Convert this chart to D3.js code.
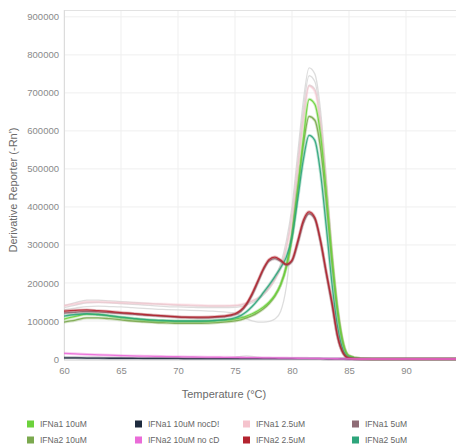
<!DOCTYPE html>
<html><head><meta charset="utf-8">
<script src="https://cdn.jsdelivr.net/npm/d3@7"></script>
<style>body{margin:0;background:#fff;} svg{display:block;font-family:"Liberation Sans",Arial,sans-serif;}</style>
</head><body><svg id="c" width="456" height="447"></svg>
<script>
const temps = [60,61,62,63,64,65,66,67,68,69,70,71,72,73,74,75,75.5,76,76.5,77,77.5,78,78.5,79,79.5,80,80.5,81,81.5,82,82.5,83,83.5,84,84.5,85,86,87,88,90,92,95];
const xTicks = [60,65,70,75,80,85,90];
const yTicks = [0,100000,200000,300000,400000,500000,600000,700000,800000,900000];
const seriesNames = ["IFNa1 10uM","IFNa1 10uM nocD!","IFNa1 2.5uM","IFNa1 5uM","IFNa2 10uM","IFNa2 10uM no cD","IFNa2 2.5uM","IFNa2 5uM"];
const seriesColors = ["#6cd23c","#1e2b3e","#f5c3cd","#8e6b75","#7ba94e","#ea6bd8","#b3232f","#2ea57b"];
// values (Derivative Reporter) per temperature
const ifna1_10 =  [105000,112000,118000,117000,113000,109000,106000,103000,101000,100000,99000,99000,99000,100000,102000,105000,108000,113000,119000,127000,137000,150000,168000,195000,240000,320000,440000,580000,683000,670000,590000,440000,270000,130000,40000,8000,1000,0,0,0,0,0];
const ifna1_10nocd = [3000,3000,2500,2500,2000,2000,2000,1500,1500,1500,1500,1000,1000,1000,1000,1000,1000,1000,1000,1000,1000,1000,1000,1000,1000,1000,1000,1000,1000,1000,1000,500,500,500,500,0,0,0,0,0,0,0];
const ifna1_25 =  [140000,145000,150000,150000,149000,148000,147000,146000,145000,144000,143000,142000,141000,140000,140000,141000,143000,147000,153000,160000,172000,188000,210000,240000,290000,370000,500000,630000,718000,705000,620000,460000,280000,135000,42000,9000,1000,0,0,0,0,0];
const ifna1_5 =   [121000,123000,125000,124000,122000,120000,118000,116000,114000,112000,110000,109000,108000,109000,111000,117000,125000,142000,168000,201000,235000,258000,264000,257000,247000,257000,303000,358000,382000,368000,308000,225000,145000,58000,14000,2000,0,0,0,0,0,0];
const ifna2_10 =  [97000,102000,108000,108000,106000,103000,100000,98000,96000,95000,94000,94000,94000,95000,97000,100000,103000,108000,114000,122000,132000,146000,165000,195000,245000,330000,450000,565000,638000,628000,555000,415000,255000,122000,38000,8000,1000,0,0,0,0,0];
const ifna2_10nocd = [15000,13500,12000,11000,10000,9000,8000,7500,7000,6500,6000,5500,5000,4800,4500,4200,4000,3800,3600,3400,3200,3000,2800,2600,2400,2200,2000,1800,1600,1400,1200,1000,800,600,400,200,0,0,0,0,0,0];
const ifna2_25 =  [126000,128000,129000,127000,125000,122000,120000,117000,115000,113000,111000,110000,110000,111000,113000,119000,128000,145000,172000,205000,238000,262000,268000,260000,249000,260000,310000,365000,387000,372000,312000,230000,150000,60000,15000,2000,0,0,0,0,0,0];
const ifna2_5 =   [113000,117000,119000,117000,114000,110000,107000,104000,102000,101000,100000,100000,100000,101000,103000,108000,114000,124000,138000,155000,175000,195000,217000,240000,268000,320000,420000,525000,588000,575000,490000,350000,200000,85000,22000,4000,0,0,0,0,0,0];
// unselected replicate wells (light gray)
const grayA = [140000,148000,155000,155000,153000,151000,149000,147000,145000,143000,141000,140000,139000,139000,139000,140000,142000,146000,152000,160000,172000,190000,215000,250000,310000,400000,540000,680000,766000,750000,655000,480000,290000,140000,44000,9000,1000,0,0,0,0,0];
const grayB = [135000,142000,148000,149000,148000,146000,144000,142000,140000,138000,137000,136000,135000,135000,135000,136000,138000,142000,148000,156000,168000,185000,208000,240000,295000,385000,520000,660000,745000,730000,635000,465000,280000,135000,42000,9000,1000,0,0,0,0,0];
const grayC = [130000,134000,138000,139000,138000,137000,135000,133000,131000,130000,129000,128000,127000,126000,124000,120000,114000,106000,100000,97000,97000,99000,105000,125000,190000,330000,500000,640000,720000,710000,620000,455000,275000,130000,40000,8000,1000,0,0,0,0,0];
const grayD = [2000,2000,2000,2000,2000,2000,2000,2500,3000,4000,5000,5000,4000,3000,3500,5000,7000,8000,7000,5000,3000,2000,1500,1000,1000,1000,1000,1000,1000,1000,1000,500,500,500,0,0,0,0,0,0,0,0];

const grayData = [grayA, grayB, grayC, grayD];
const seriesData = [ifna1_10, ifna1_10nocd, ifna1_25, ifna1_5, ifna2_10, ifna2_10nocd, ifna2_25, ifna2_5];
const seriesOrder = [2,1,4,0,7,3,6,5];

const svg = d3.select("#c");
const x = d3.scaleLinear().domain([60,95]).range([64, 463]);
const y = d3.scaleLinear().domain([0,918000]).range([359, 10]);

svg.append("defs").append("clipPath").attr("id","clip").append("rect").attr("x",64).attr("y",0).attr("width",392).attr("height",362);

// grid
const g = svg.append("g");
g.selectAll(".vg").data(xTicks).join("line").attr("x1",d=>x(d)).attr("x2",d=>x(d)).attr("y1",10).attr("y2",359).attr("stroke","#efefef");
g.selectAll(".hg").data(yTicks).join("line").attr("x1",64).attr("x2",456).attr("y1",d=>y(d)).attr("y2",d=>y(d)).attr("stroke","#efefef");
g.append("line").attr("x1",64).attr("x2",456).attr("y1",10.5).attr("y2",10.5).attr("stroke","#e2e2e2");
g.append("line").attr("x1",64.5).attr("x2",64.5).attr("y1",10).attr("y2",360).attr("stroke","#dcdcdc");
g.append("line").attr("x1",64).attr("x2",456).attr("y1",360.5).attr("y2",360.5).attr("stroke","#e6e6e6");

// axes
const xAxis = d3.axisBottom(x).tickValues(xTicks).tickSize(0).tickPadding(8);
const xa = svg.append("g").attr("transform","translate(0,359)").call(xAxis);
const yAxis = d3.axisLeft(y).tickValues(yTicks).tickSize(0).tickPadding(5).tickFormat(d3.format("d"));
const ya = svg.append("g").attr("transform","translate(64,0)").call(yAxis);
[xa,ya].forEach(a=>{a.select(".domain").remove();a.selectAll("text").attr("fill","#8a8a8a").style("font-size","9.5px").style("font-family","Liberation Sans, Arial, sans-serif");});

svg.append("text").attr("x",224).attr("y",398).attr("text-anchor","middle").attr("fill","#6a6a6a").style("font-size","11px").text("Temperature (°C)");
svg.append("text").attr("transform","translate(17,190) rotate(-90)").attr("text-anchor","middle").attr("fill","#6a6a6a").style("font-size","11px").text("Derivative Reporter (-Rn')");

const line = d3.line().x((d,i)=>x(temps[i])).y(d=>y(d)).curve(d3.curveMonotoneX);
const plot = svg.append("g").attr("clip-path","url(#clip)");
plot.selectAll(".gray").data(grayData).join("path").attr("d",line).attr("fill","none").attr("stroke","#d9d9d9").attr("stroke-width",1.3).attr("opacity",0.9);

seriesOrder.forEach(k=>{
  const col = seriesColors[k];
  const op = k===2 ? 0.6 : 0.9;
  plot.append("path").attr("d",line(seriesData[k])).attr("fill","none").attr("stroke",col).attr("stroke-width",3).attr("opacity",0.3);
  plot.append("path").attr("d",line(seriesData[k])).attr("fill","none").attr("stroke",col).attr("stroke-width",1.3).attr("opacity",op);
});

// legend
const legX = [27,135,243,352];
const legY = [424,440];
const lg = svg.append("g");
seriesNames.forEach((n,i)=>{
  const col = i%4, row = Math.floor(i/4);
  lg.append("rect").attr("x",legX[col]).attr("y",legY[row]-3.5).attr("width",7).attr("height",7).attr("fill",seriesColors[i]);
  lg.append("text").attr("x",legX[col]+13).attr("y",legY[row]+3).attr("fill","#666").style("font-size","8.5px").text(n);
});
</script></body></html>
